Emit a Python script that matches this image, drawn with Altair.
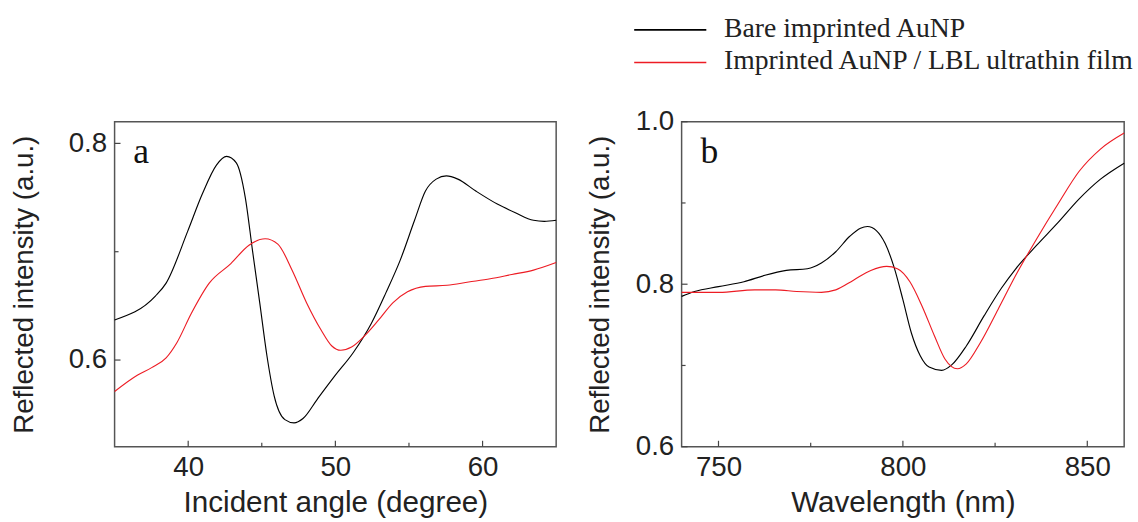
import altair as alt
import pandas as pd

series = ["Bare imprinted AuNP", "Imprinted AuNP / LBL ultrathin film"]
colors = ["#000000", "#ed1c24"]

# Panel a: reflected intensity vs incident angle
a_bare_x = [35, 37.77, 38.5, 39.97, 40.95, 41.92, 42.61, 43.27, 43.88, 44.37, 44.86, 45.35,
            45.84, 46.57, 47.19, 47.8, 48.78, 50.0, 51.22, 52.45, 53.43, 54.4, 55.38, 56.12,
            56.85, 57.54, 58.32, 59.54, 61.0, 62.23, 63.46, 64.19, 65]
a_bare_y = [0.637, 0.659, 0.671, 0.719, 0.753, 0.780, 0.788, 0.782, 0.750, 0.701, 0.653, 0.604,
            0.567, 0.545, 0.542, 0.546, 0.564, 0.586, 0.607, 0.634, 0.662, 0.692, 0.729, 0.756,
            0.767, 0.770, 0.767, 0.756, 0.744, 0.736, 0.729, 0.728, 0.729]
a_film_x = [35, 36.54, 37.52, 38.5, 39.23, 40.21, 41.43, 42.9, 44.13, 45.23, 46.09, 47.06,
            48.04, 49.02, 49.76, 50.37, 51.1, 51.96, 52.94, 53.92, 54.9, 56.12, 57.59, 59.05,
            60.52, 61.99, 63.46, 65]
a_film_y = [0.571, 0.586, 0.593, 0.602, 0.616, 0.643, 0.671, 0.689, 0.706, 0.712, 0.707, 0.683,
            0.653, 0.628, 0.613, 0.609, 0.612, 0.622, 0.637, 0.653, 0.663, 0.668, 0.669, 0.672,
            0.675, 0.679, 0.683, 0.690]

# Panel b: reflected intensity vs wavelength
b_bare_x = [740, 743.5, 750, 756.9, 762.6, 768.4, 774.1, 777.9, 781.8, 785.6, 788.5, 790.4,
            792.8, 795.2, 797.6, 800.0, 802.3, 804.7, 807.1, 810.5, 813.3, 817.2, 822.0, 826.7,
            830.6, 836.3, 842.1, 847.8, 853.5, 860]
b_bare_y = [0.785, 0.791, 0.797, 0.803, 0.811, 0.817, 0.819, 0.826, 0.840, 0.859, 0.869, 0.871,
            0.866, 0.850, 0.821, 0.781, 0.740, 0.712, 0.698, 0.694, 0.701, 0.724, 0.761, 0.795,
            0.819, 0.848, 0.876, 0.905, 0.929, 0.949]
b_film_x = [740, 750.2, 759.8, 765.5, 771.2, 777.9, 781.8, 786.6, 791.3, 795.6, 798.5, 801.9,
            805.2, 808.6, 811.4, 814.8, 817.2, 821.0, 825.8, 830.6, 836.3, 842.1, 847.8, 853.5, 860]
b_film_y = [0.790, 0.790, 0.793, 0.793, 0.791, 0.790, 0.793, 0.805, 0.817, 0.822, 0.819, 0.803,
            0.773, 0.736, 0.708, 0.696, 0.702, 0.728, 0.769, 0.811, 0.856, 0.899, 0.939, 0.966, 0.986]

a_xmajor = [40, 50, 60]
a_xminor = [45, 55]
a_ymajor = [0.6, 0.8]
a_yminor = [0.7]
b_xmajor = [750, 800, 850]
b_xminor = [775, 825]
b_ymajor = [0.6, 0.8, 1.0]
b_yminor = [0.7, 0.9]

W_A, W_B, H = 447, 448, 329


def frame(xs_list, ys_list):
    rows = []
    for name, xs, ys in zip(series, xs_list, ys_list):
        for xv, yv in zip(xs, ys):
            rows.append({"x": xv, "y": yv, "series": name})
    return pd.DataFrame(rows)


def panel(df, xdom, ydom, xtitle, ytitle, xmaj, xmin, ymaj, ymin, letter, width,
          title_pad, extra=None):
    xenc = alt.X("x:Q", scale=alt.Scale(domain=xdom, nice=False, zero=False),
                 axis=alt.Axis(values=xmaj, title=xtitle, ticks=False, domain=False,
                               grid=False, labelPadding=7, titlePadding=7, titleFontSize=30,
                               labelOverlap=False, labelFlush=False))
    yenc = alt.Y("y:Q", scale=alt.Scale(domain=ydom, nice=False, zero=False),
                 axis=alt.Axis(values=ymaj, title=ytitle, ticks=False, domain=False,
                               grid=False, labelPadding=8, titlePadding=title_pad,
                               labelOverlap=False, format=".1f"))
    lines = alt.Chart(df).mark_line(strokeWidth=1.15, interpolate="monotone").encode(
        x=xenc, y=yenc,
        color=alt.Color("series:N", scale=alt.Scale(domain=series, range=colors), legend=None),
        detail="series:N",
    )
    layers = [lines]
    for vals, ln in ((xmaj, 6), (xmin, 4)):
        layers.append(alt.Chart(pd.DataFrame({"x": vals})).mark_rule(
            color="#444", strokeWidth=1.2).encode(
            x=xenc, y=alt.value(H), y2=alt.value(H - ln)))
    for vals, ln in ((ymaj, 6), (ymin, 4)):
        layers.append(alt.Chart(pd.DataFrame({"y": vals})).mark_rule(
            color="#444", strokeWidth=1.2).encode(
            y=yenc, x=alt.value(0), x2=alt.value(ln)))
    layers.append(alt.Chart(pd.DataFrame({"t": [letter]})).mark_text(
        font="Liberation Serif", fontSize=36, align="left", baseline="alphabetic",
        color="#111").encode(x=alt.value(19), y=alt.value(42), text="t:N"))
    # spacer so both panels reserve the same room above the plot
    layers.append(alt.Chart(pd.DataFrame({"s": [0]})).mark_rule(strokeOpacity=0).encode(
        x=alt.value(0), x2=alt.value(1), y=alt.value(-115), y2=alt.value(-115)))
    if extra:
        layers.extend(extra)
    return alt.layer(*layers).properties(width=width, height=H)


legend_layers = []
leg_rule_y = [-93, -60]
leg_text_y = [-86, -53]
for name, col, ry, ty in zip(series, colors, leg_rule_y, leg_text_y):
    legend_layers.append(alt.Chart(pd.DataFrame({"s": [name]})).mark_rule(
        color=col, strokeWidth=1.6).encode(
        x=alt.value(-48), x2=alt.value(25), y=alt.value(ry), y2=alt.value(ry)))
    legend_layers.append(alt.Chart(pd.DataFrame({"s": [name]})).mark_text(
        font="Liberation Serif", fontSize=28, align="left", baseline="alphabetic",
        color="#222").encode(x=alt.value(43), y=alt.value(ty), text="s:N"))

pa = panel(frame([a_bare_x, a_film_x], [a_bare_y, a_film_y]), [35, 65], [0.52, 0.82],
           "Incident angle (degree)", "Reflected intensity (a.u.)",
           a_xmajor, a_xminor, a_ymajor, a_yminor, "a", W_A, 30)
pb = panel(frame([b_bare_x, b_film_x], [b_bare_y, b_film_y]), [740, 860], [0.6, 1.0],
           "Wavelength (nm)", "Reflected intensity (a.u.)",
           b_xmajor, b_xminor, b_ymajor, b_yminor, "b", W_B, 21, legend_layers)

chart = alt.hconcat(pa, pb, spacing=26).properties(
    padding={"left": 10, "top": 4, "right": 0, "bottom": 0}
).configure_view(stroke="#555", strokeWidth=1.5).configure_axis(
    labelFont="Liberation Sans", labelFontSize=28, labelColor="#222",
    titleFont="Liberation Sans", titleFontSize=28, titleFontWeight="normal", titleColor="#222"
)

chart.save("out.html", embed_options={"renderer": "svg", "actions": False})
